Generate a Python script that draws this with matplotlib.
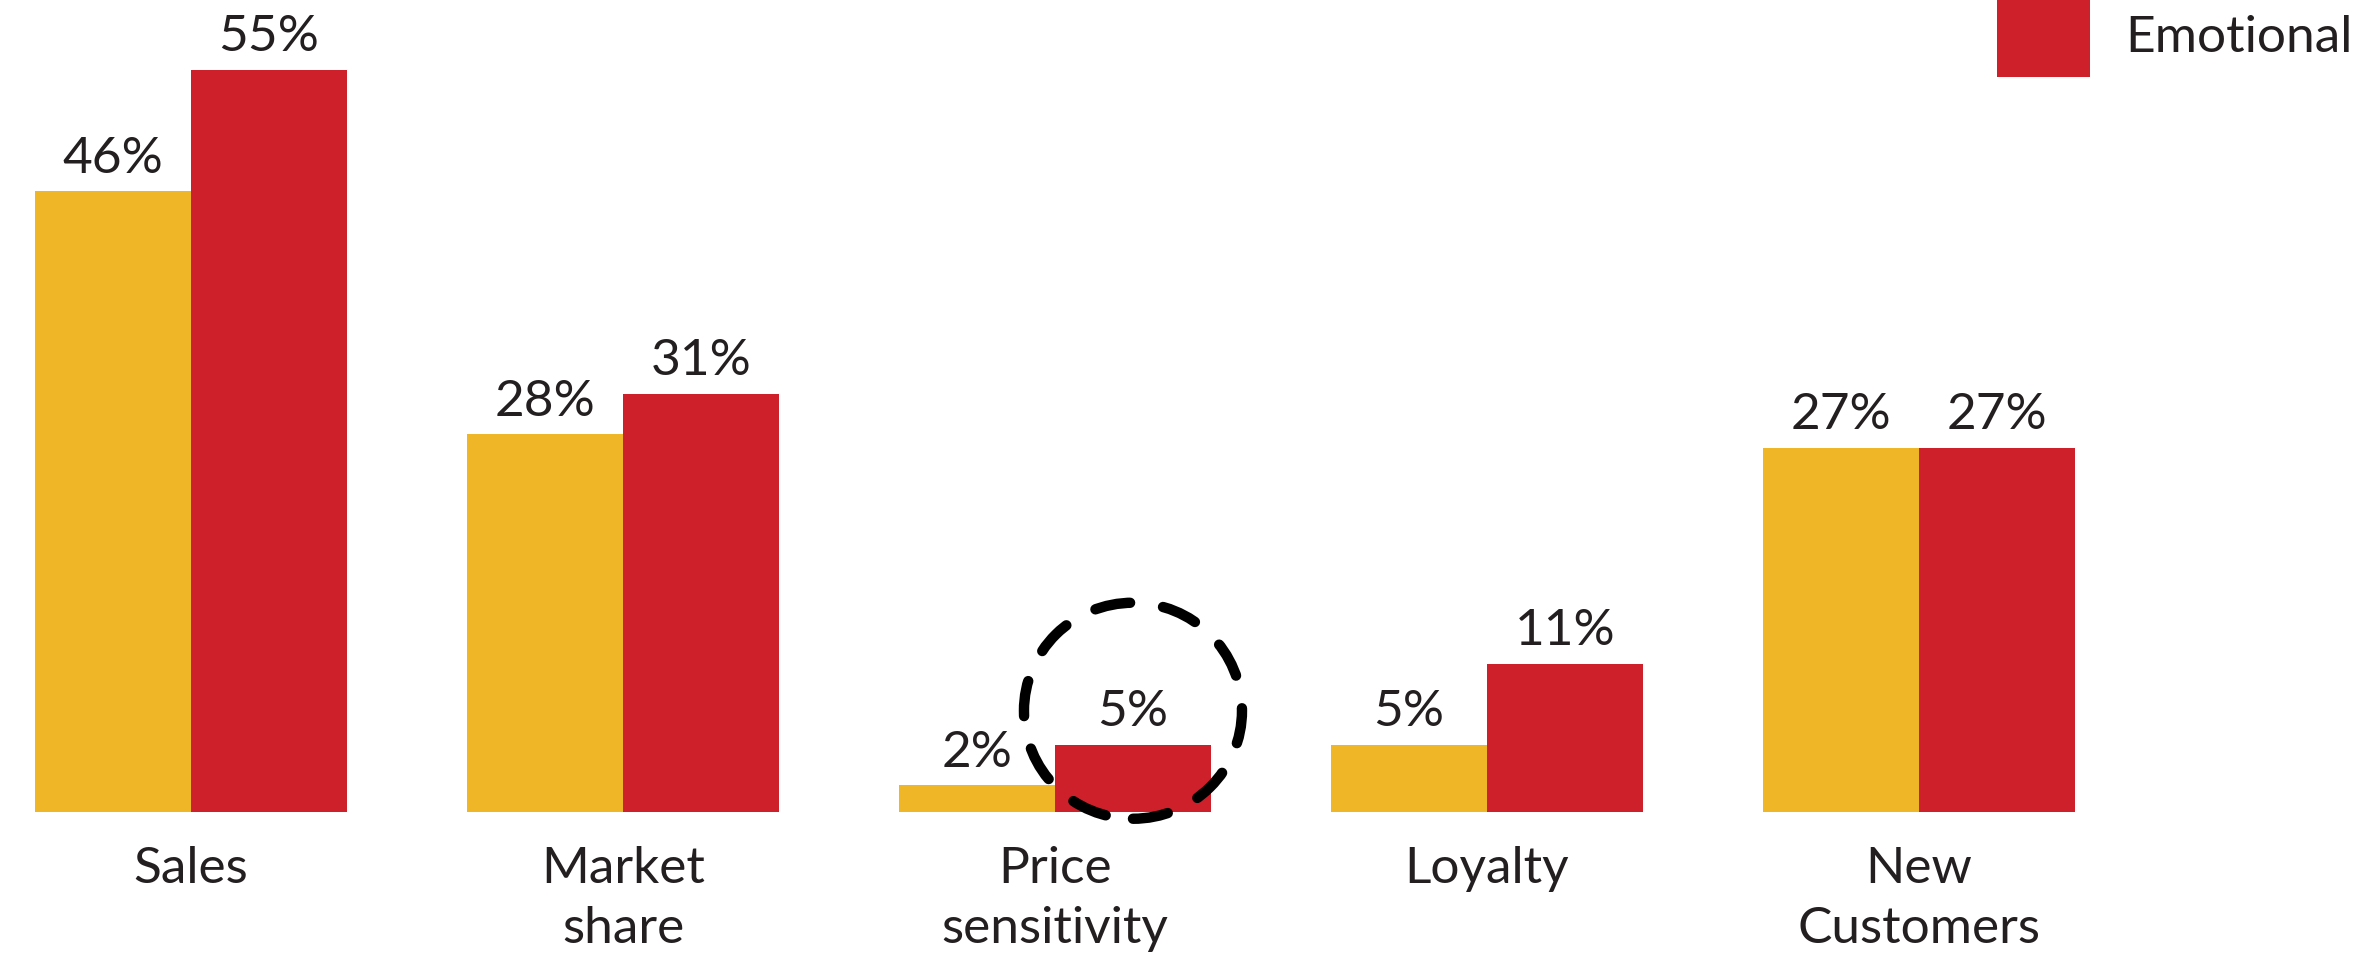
import numpy as np
import matplotlib.pyplot as plt
from matplotlib.patches import Ellipse, Rectangle

plt.rcParams['font.family'] = ['Lato', 'DejaVu Sans']

categories  = ['Sales', 'Market\nshare', 'Price\nsensitivity', 'Loyalty', 'New\nCustomers']
rational    = [46, 28, 2, 5, 27]
emotional   = [55, 31, 5, 11, 27]
legend_lbl  = 'Emotional'

c_yel   = '#EFB627'
c_red   = '#CE202B'
c_txt   = '#231F20'

W, H    = 2362, 962
px_x    = 432.0          # pixels per category step
px_y    = 13.5           # pixels per percent
x0_px   = 191.0          # first group centre
y0_px   = 149.0          # baseline from bottom
w       = 0.361          # bar width (category units)
fs      = 37

fig = plt.figure(figsize=(W/100, H/100), dpi=100)
ax = fig.add_axes([0, 0, 1, 1])
ax.set_xlim(-x0_px/px_x, (W - x0_px)/px_x)
ax.set_ylim(-y0_px/px_y, (H - y0_px)/px_y)
ax.axis('off')

x = np.arange(len(categories))
b1 = ax.bar(x - w/2, rational, w, color=c_yel, linewidth=0)
b2 = ax.bar(x + w/2, emotional, w, color=c_red, linewidth=0)

for bars, vals in [(b1, rational), (b2, emotional)]:
    for b, v in zip(bars, vals):
        ax.annotate(f'{v}%', (b.get_x() + b.get_width()/2, v),
                    xytext=(0, 14), textcoords='offset points',
                    ha='center', va='baseline', fontsize=fs, color=c_txt)

# category labels, one line at a time (baselines 60 px apart)
for xi, lab in zip(x, categories):
    for k, line in enumerate(lab.split('\n')):
        ax.text(xi, (-70 - 60*k)/px_y, line, ha='center', va='baseline',
                fontsize=fs, color=c_txt)

# dashed highlight around price sensitivity / emotional
i_ps = 2
ell = Ellipse((x[i_ps] + w/2, emotional[i_ps] + 2.5), 2*109/px_x, 2*108/px_y,
              fill=False, edgecolor='black', linewidth=7.5,
              linestyle=(0, (3.4, 3.2)), capstyle='round')
ax.add_patch(ell)

# legend (top cut off)
fig.patches.append(Rectangle((1997/W, 1 - 78/H), 93/W, 78/H + 0.02,
                             transform=fig.transFigure, color=c_red, linewidth=0))
fig.text(2125/W, 1 - 52/H, legend_lbl, ha='left', va='baseline', fontsize=fs, color=c_txt)

fig.savefig('out.png', dpi=100)
